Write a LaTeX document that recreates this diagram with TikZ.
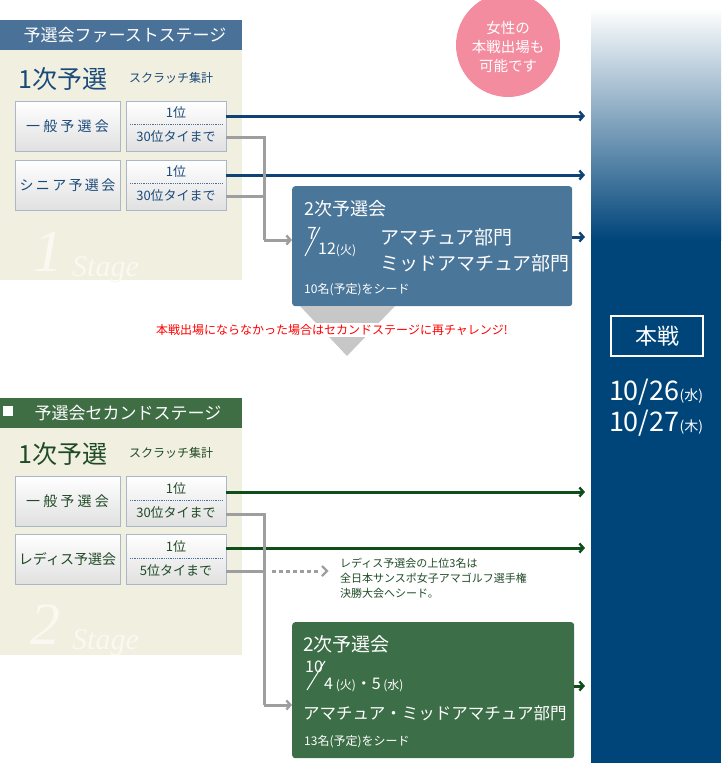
\documentclass[tikz,border=0pt]{standalone}
\usepackage{fontspec}
\setmainfont{Noto Sans CJK JP}
\newfontfamily\wmfont{Liberation Serif}
\usetikzlibrary{arrows.meta}
\definecolor{hblue}{HTML}{4A7299}
\definecolor{dblue}{HTML}{0F4275}
\definecolor{bblue}{HTML}{4A7699}
\definecolor{navy}{HTML}{00457A}
\definecolor{cream}{HTML}{F1F0E0}
\definecolor{hgreen}{HTML}{3F6E45}
\definecolor{dgreen}{HTML}{0F4E1A}
\definecolor{tgreen}{HTML}{1F4A25}
\definecolor{bgreen}{HTML}{3C6E47}
\definecolor{pinkc}{HTML}{F48CA0}
\definecolor{btnb}{HTML}{A8B8C8}
\definecolor{tblue}{HTML}{1B4A7A}
\tikzset{
  btn/.style={draw=btnb,top color=white,bottom color=black!12,minimum width=105pt,minimum height=50pt,inner sep=0pt},
  rbtn/.style={draw=btnb,top color=white,bottom color=black!12,minimum width=100pt,minimum height=50pt,inner sep=0pt},
  tip/.style={-{Straight Barb[length=4pt,width=9pt,line width=2.4pt]}},
  bline/.style={dblue,line width=3pt,tip},
  gline/.style={dgreen,line width=3pt,tip},
  grline/.style={black!38,line width=3pt},
  lbl/.style={inner sep=0pt,anchor=west},
}
\begin{document}
\begin{tikzpicture}[x=1pt,y=-1pt]
\useasboundingbox (0,0) rectangle (721,763);
% right bar
\shade[top color=white,bottom color=navy] (591,8) rectangle (721,240);
\fill[navy] (591,239.5) rectangle (721,763);
\node[draw=white,line width=1.2pt,minimum width=92pt,minimum height=40pt,text=white,font=\fontsize{22}{22}\selectfont] (main) at (657,336) {本戦};
\node[text=white,font=\fontsize{27}{27}\selectfont,inner sep=0pt] (d1) at (656,392) {10/26\fontsize{14}{14}\selectfont(水)};
\node[text=white,font=\fontsize{27}{27}\selectfont,inner sep=0pt] (d2) at (656,423) {10/27\fontsize{14}{14}\selectfont(木)};
\coordinate (T) at (585,0);
% pink circle
\fill[pinkc] (508,45) circle (52);
\node[text=white,align=center,font=\fontsize{14.5}{19}\selectfont] (pink) at (508,47) {女性の\\本戦出場も\\可能です};
% ---------- stage 1
\fill[cream] (0,20) rectangle (242,280);
\fill[hblue] (0,20) rectangle (242,50);
\node[text=white!55!cream,font=\wmfont\itshape\fontsize{60}{60}\selectfont,inner sep=0pt] (wm1) at (48,252) {1};
\node[text=white!55!cream,font=\wmfont\itshape\fontsize{30}{30}\selectfont,inner sep=0pt,anchor=west] (wm1b) at (72,270) {Stage};
\node[text=white,font=\fontsize{17}{17}\selectfont] (h1) at (125,35) {予選会ファーストステージ};
\node[lbl,text=tblue,font=\fontsize{25}{25}\selectfont] (p1) at (18,79) {1次予選};
\node[lbl,text=tblue,font=\fontsize{12}{12}\selectfont] (s1) at (129,78) {スクラッチ集計};
\node[btn,text=tblue,font=\fontsize{14}{14}\selectfont] (a1) at (67.5,126) {一\ 般\ 予\ 選\ 会};
\node[rbtn] (a1r) at (176,126) {};
\node[btn,text=tblue,font=\fontsize{14}{14}\selectfont] (b1) at (67.5,185) {シ\,ニ\,ア\,予\,選\,会};
\node[rbtn] (b1r) at (176,185) {};
\foreach \n/\y in {a1r/113,b1r/172}{
  \draw[hblue,densely dotted,line width=0.8pt] (130,\y+11) -- (222,\y+11);
  \node[text=tblue,font=\fontsize{13}{13}\selectfont] at (176,\y) {1位};
  \node[text=tblue,font=\fontsize{13}{13}\selectfont] at (176,\y+24) {30位タイまで};
}
\coordinate (a1o) at (226,116); \coordinate (a1g) at (226,137);
\coordinate (b1o) at (226,175); \coordinate (b1g) at (226,196);
\draw[bline] (a1o) -- (T |- a1o);
\draw[bline] (b1o) -- (T |- b1o);
% second-round box 1
\node[fill=bblue,rounded corners=3pt,minimum width=280pt,minimum height=120pt,anchor=north west] (q1) at (292,186) {};
\draw[grline] (a1g) -- (264,137) -- (264,240);
\draw[grline] (b1g) -- (264,196);
\draw[grline,tip] (264,240) -- (q1.west |- 0,240);
\node[lbl,text=white,font=\fontsize{18}{18}\selectfont] (q1t) at (304,209) {2次予選会};
\node[text=white,font=\fontsize{17}{17}\selectfont,inner sep=0pt] (q1n) at (312,233) {7};
\draw[white,line width=1pt] (305,256) -- (320,227);
\node[lbl,text=white,font=\fontsize{16}{16}\selectfont] (q1d) at (318,250) {12\fontsize{12}{12}\selectfont(火)};
\node[lbl,text=white,font=\fontsize{19}{19}\selectfont] (q1a) at (380,237) {アマチュア部門};
\node[lbl,text=white,font=\fontsize{19}{19}\selectfont] (q1b) at (380,263) {ミッドアマチュア部門};
\node[lbl,text=white,font=\fontsize{12}{12}\selectfont] (q1s) at (304,290) {10名(予定)をシード};
\draw[bline] (q1.east |- 0,237) -- (T |- 0,237);
% down arrow
\fill[black!22] (300,306) -- (395,306) -- (347,356) -- cycle;
\node[text=red,font=\fontsize{12}{12}\selectfont,fill=white,inner sep=1pt] (red) at (332,330) {本戦出場にならなかった場合はセカンドステージに再チャレンジ!};
% ---------- stage 2
\fill[cream] (0,398) rectangle (242,655);
\fill[hgreen] (0,398) rectangle (242,428);
\fill[white] (3,406) rectangle (13,416);
\node[text=white!55!cream,font=\wmfont\itshape\fontsize{60}{60}\selectfont,inner sep=0pt] (wm2) at (45,625) {2};
\node[text=white!55!cream,font=\wmfont\itshape\fontsize{30}{30}\selectfont,inner sep=0pt,anchor=west] (wm2b) at (72,643) {Stage};
\node[text=white,font=\fontsize{17}{17}\selectfont] (h2) at (128,413) {予選会セカンドステージ};
\node[lbl,text=tgreen,font=\fontsize{25}{25}\selectfont] (p2) at (18,454) {1次予選};
\node[lbl,text=tgreen,font=\fontsize{12}{12}\selectfont] (s2) at (129,453) {スクラッチ集計};
\node[btn,text=tgreen,font=\fontsize{14}{14}\selectfont] (a2) at (67.5,501) {一\ 般\ 予\ 選\ 会};
\node[rbtn] (a2r) at (176,501) {};
\node[btn,text=tgreen,font=\fontsize{14}{14}\selectfont] (b2) at (67.5,559) {レディス予選会};
\node[rbtn] (b2r) at (176,559) {};
\foreach \y/\t in {489/30位タイまで,547/5位タイまで}{
  \draw[hblue,densely dotted,line width=0.8pt] (130,\y+11) -- (222,\y+11);
  \node[text=tgreen,font=\fontsize{13}{13}\selectfont] at (176,\y) {1位};
  \node[text=tgreen,font=\fontsize{13}{13}\selectfont] at (176,\y+24) {\t};
}
\coordinate (a2o) at (226,492); \coordinate (a2g) at (226,514);
\coordinate (b2o) at (226,548); \coordinate (b2g) at (226,571);
\draw[gline] (a2o) -- (T |- a2o);
\draw[gline] (b2o) -- (T |- b2o);
\node[fill=bgreen,rounded corners=3pt,minimum width=282pt,minimum height=136pt,anchor=north west] (q2) at (292,622) {};
\draw[grline] (a2g) -- (264,514) -- (264,705);
\draw[grline] (b2g) -- (264,571);
\draw[grline,tip] (264,705) -- (q2.west |- 0,705);
\coordinate (dt) at (328,571);
\draw[black!38,line width=3pt,dash pattern=on 4pt off 3pt] (272,571) -- (321,571);
\draw[black!38,line width=2.4pt] (322,566) -- (327,571) -- (322,576);
\node[anchor=north west,text=tgreen,align=left,font=\fontsize{11}{15}\selectfont,inner sep=0pt] (note) at (340,558) {レディス予選会の上位3名は\\全日本サンスポ女子アマゴルフ選手権\\決勝大会へシード。};
\node[lbl,text=white,font=\fontsize{19}{19}\selectfont] (q2t) at (303,644) {2次予選会};
\node[text=white,font=\fontsize{16}{16}\selectfont,inner sep=0pt] (q2n) at (314,667) {10};
\draw[white,line width=1pt] (307,690) -- (325,661);
\node[lbl,text=white,font=\fontsize{16}{16}\selectfont] (q2d) at (324,685) {4\,\fontsize{12}{12}\selectfont(火)\fontsize{16}{16}\selectfont・5\,\fontsize{12}{12}\selectfont(水)};
\node[lbl,text=white,font=\fontsize{16.5}{16.5}\selectfont] (q2a) at (303,713) {アマチュア・ミッドアマチュア部門};
\node[lbl,text=white,font=\fontsize{12}{12}\selectfont] (q2s) at (304,742) {13名(予定)をシード};
\draw[gline] (q2.east |- 0,686) -- (T |- 0,686);
\end{tikzpicture}
\end{document}
